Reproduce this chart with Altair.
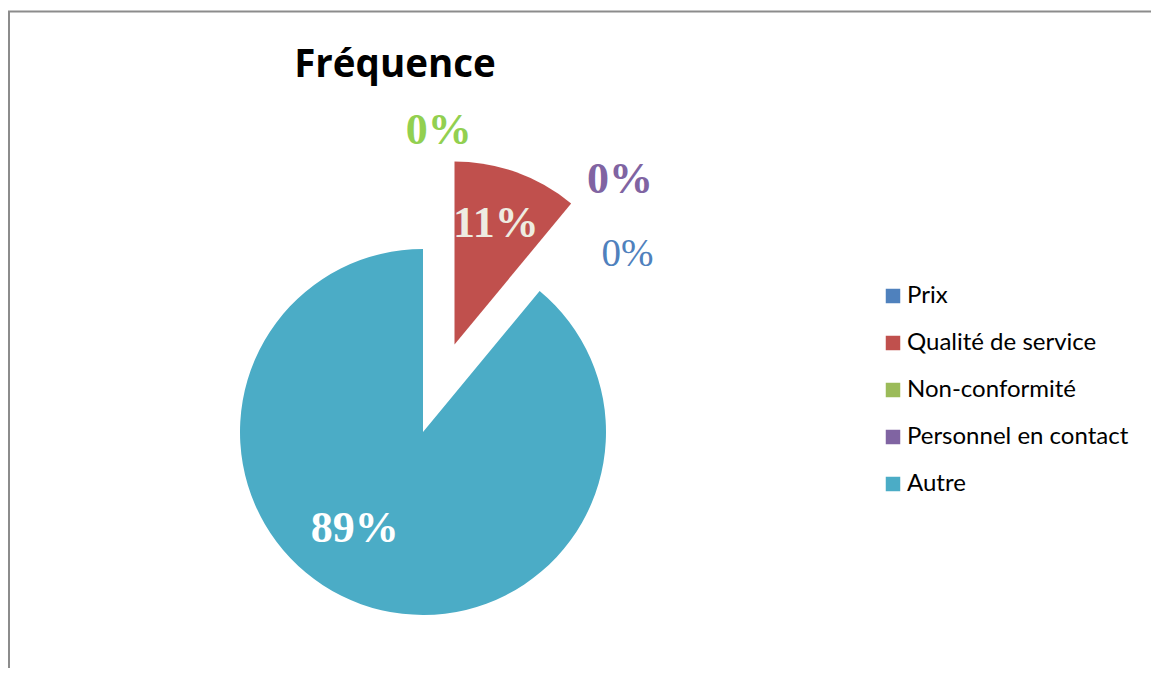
import math
import altair as alt
import pandas as pd

# ---- data ----
categories = ["Prix", "Qualité de service", "Non-conformité", "Personnel en contact", "Autre"]
values = [0, 11, 0, 0, 89]
labels = ["0%", "11%", "0%", "0%", "89%"]
title_text = "Fréquence"

# ---- styles ----
slice_colors = ["#4F81BD", "#C0504D", "#9BBB59", "#8064A2", "#4BACC6"]
label_colors = ["#4F81BD", "#EEECE1", "#92D050", "#8064A2", "#FFFFFF"]
label_bold = [False, True, True, True, True]
label_sizes = [39, 44, 44, 44, 44]
explode_px = [0, 93, 0, 0, 0]
label_angle_deg = [49, 19, 3, 38, 215]
label_radius = [271, 127, 301, 320, 119]

W, H = 1143, 660
CX, CY, R = 415, 424, 183

# build table
total = sum(values)
rows = []
cum = 0
for i, c in enumerate(categories):
    t0 = cum / total * 2 * math.pi
    cum += values[i]
    t1 = cum / total * 2 * math.pi
    mid = (t0 + t1) / 2
    cx = CX + explode_px[i] * math.sin(mid)
    cy = CY - explode_px[i] * math.cos(mid)
    la = math.radians(label_angle_deg[i])
    rows.append({
        "category": c, "value": values[i], "label": labels[i],
        "t0": t0, "t1": t1, "cx": cx, "cy": cy,
        "lx": cx + label_radius[i] * math.sin(la),
        "ly": cy - label_radius[i] * math.cos(la),
        "lcolor": label_colors[i], "lsize": label_sizes[i], "bold": label_bold[i],
    })
df = pd.DataFrame(rows)

arcs = alt.Chart(df).mark_arc(radius=R, strokeWidth=0).encode(
    theta=alt.Theta("t0:Q", scale=None),
    theta2="t1:Q",
    x=alt.X("cx:Q", scale=None, axis=None),
    y=alt.Y("cy:Q", scale=None, axis=None),
    color=alt.Color(
        "category:N",
        sort=categories,
        scale=alt.Scale(domain=categories, range=slice_colors),
        legend=alt.Legend(
            title=None, orient="none", legendX=873, legendY=276,
            symbolType="square", symbolSize=210, symbolStrokeWidth=0,
            labelFont="Lato", labelFontSize=24, labelColor="black",
            rowPadding=23, labelOffset=2, padding=0, labelLimit=400,
        ),
    ),
)

def label_layer(bold):
    return alt.Chart(df[df["bold"] == bold]).mark_text(
        font="Liberation Serif", fontWeight="bold" if bold else "normal",
        align="center", baseline="middle",
    ).encode(
        x=alt.X("lx:Q", scale=None, axis=None),
        y=alt.Y("ly:Q", scale=None, axis=None),
        text="label:N",
        color=alt.Color("lcolor:N", scale=None),
        size=alt.Size("lsize:Q", scale=None),
    )

title = alt.Chart(pd.DataFrame({"t": [title_text]})).mark_text(
    font="Open Sans", fontWeight="bold", fontSize=38.5, align="center",
    baseline="alphabetic", color="black",
).encode(text="t:N", x=alt.value(387), y=alt.value(69))

frame = alt.Chart(pd.DataFrame({"a": [0]}))
top_rule = frame.mark_rule(color="#8c8c8c", strokeWidth=2).encode(
    x=alt.value(0), x2=alt.value(W), y=alt.value(3.5))
left_rule = frame.mark_rule(color="#8c8c8c", strokeWidth=2).encode(
    x=alt.value(1), y=alt.value(3), y2=alt.value(H))

chart = alt.layer(
    top_rule, left_rule, arcs, label_layer(True), label_layer(False), title
).properties(
    width=W, height=H, padding=0, autosize=alt.AutoSizeParams(type="none"),
    background="white",
).configure_view(strokeWidth=0)

chart.save("out.html", embed_options={"renderer": "svg", "actions": False})
